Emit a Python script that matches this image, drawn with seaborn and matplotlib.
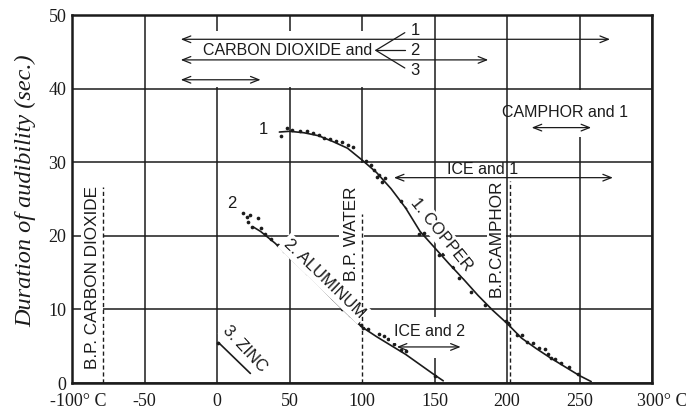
import matplotlib
matplotlib.use("Agg")
import matplotlib.pyplot as plt
import seaborn as sns
import pandas as pd
from matplotlib.patches import Rectangle
from matplotlib.transforms import ScaledTranslation

# ---------------- data (temperature °C, duration of audibility in sec.) -------------
copper_curve_t = [43, 50, 60, 70, 80, 90, 100, 110, 120, 130, 140, 150, 160, 170, 180,
                  190, 200, 210, 220, 230, 240, 250, 258]
copper_curve_s = [34.1, 34.2, 34.0, 33.6, 32.8, 31.9, 30.3, 28.6, 26.4, 23.8, 20.6, 18.4,
                  16.2, 14.1, 11.9, 9.9, 8.1, 6.1, 4.7, 3.4, 2.2, 1.0, 0.2]
copper_obs_t = [44, 48, 52, 57, 62, 66, 70, 74, 78, 82, 86, 90, 94, 103, 106, 108, 110,
                112, 114, 116, 127, 130, 132, 139, 143, 153, 156, 163, 167, 175, 185, 199,
                201, 207, 210, 214, 218, 222, 226, 228, 230, 233, 237, 243, 249]
copper_obs_s = [33.5, 34.6, 34.4, 34.3, 34.2, 34.0, 33.7, 33.3, 33.1, 32.9, 32.7, 32.4,
                32.1, 30.2, 29.6, 29.0, 28.0, 28.3, 27.3, 27.8, 24.7, 23.9, 24.3, 20.3,
                20.4, 17.4, 17.5, 15.7, 14.3, 12.4, 10.6, 8.4, 8.1, 6.5, 6.5, 5.6, 5.4,
                4.8, 4.6, 4.0, 3.4, 3.3, 2.7, 2.2, 1.2]

aluminum_curve_t = [25, 30, 40, 50, 60, 70, 80, 90, 100, 110, 120, 130, 140, 150, 156]
aluminum_curve_s = [21.2, 20.6, 19.0, 17.1, 15.2, 13.3, 11.3, 9.4, 7.6, 6.3, 5.1, 3.9,
                    2.5, 1.1, 0.3]
aluminum_obs_t = [18, 20.5, 23, 28.5, 21.6, 24, 30, 33, 37, 42, 46, 50, 54, 58, 62, 66,
                  70, 75, 80, 83, 86, 88, 90, 92, 95, 97, 99, 101, 104, 112, 115, 118,
                  122, 127, 130, 150]
aluminum_obs_s = [23.1, 22.6, 22.8, 22.4, 21.9, 21.2, 21.0, 20.3, 19.6, 18.8, 18.0, 17.3,
                  16.6, 15.9, 15.0, 14.4, 13.6, 12.7, 11.6, 11.3, 10.0, 10.4, 9.6, 9.3,
                  8.8, 8.3, 7.9, 7.5, 7.3, 6.6, 6.4, 6.0, 5.3, 4.5, 4.3, 1.0]

zinc_curve_t = [1, 12, 23]
zinc_curve_s = [5.5, 3.4, 1.3]
zinc_obs_t = [1]
zinc_obs_s = [5.5]

boiling_names = ["B.P. CARBON DIOXIDE", "B.P. WATER", "B.P.CAMPHOR"]
boiling_points = [-78.5, 100, 202]

x_ticks = [-100, -50, 0, 50, 100, 150, 200, 250, 300]
x_tick_labels = ["-100° C", "-50", "0", "50", "100", "150", "200", "250", "300° C"]
y_ticks = [0, 10, 20, 30, 40, 50]
y_tick_labels = ["0", "10", "20", "30", "40", "50"]

# temperature ranges of the mixtures (start, end)
co2_ranges = [(-25, 271), (-25, 187), (-25, 30)]
ice1_range = (122, 273)
ice2_range = (124, 168)
camphor1_range = (217, 258)

# ---------------- figure ----------------
sns.set_theme(style="white")
SERIF = ["Liberation Serif", "DejaVu Serif"]
SANS = ["Liberation Sans Narrow", "Liberation Sans", "DejaVu Sans"]
plt.rcParams["font.family"] = SERIF
INK = "#1b1b1b"

fig = plt.figure(figsize=(6.86, 4.11), dpi=100)
ax = fig.add_axes([0.105, 0.0681, 0.8455, 0.8954])
ax.set_facecolor("white")
ax.set_axisbelow(True)

ax.set_xlim(-100, 300)
ax.set_ylim(0, 50)
ax.set_xticks(x_ticks)
ax.set_xticklabels(x_tick_labels, fontsize=13, color=INK)
ax.set_yticks(y_ticks)
ax.set_yticklabels(y_tick_labels, fontsize=13, color=INK)
ax.tick_params(axis="x", length=0, pad=7)
ax.tick_params(axis="y", length=0, pad=4)
for i, lab in enumerate(ax.get_xticklabels()):
    if i == 0:
        lab.set_transform(lab.get_transform() + ScaledTranslation(6 / 100, 0, fig.dpi_scale_trans))
    if i == len(x_ticks) - 1:
        lab.set_transform(lab.get_transform() + ScaledTranslation(10 / 100, 0, fig.dpi_scale_trans))
ax.grid(True, color=INK, lw=1.1)
for sp in ax.spines.values():
    sp.set_visible(True)
    sp.set_color(INK)
    sp.set_linewidth(1.8)

ax.set_ylabel("Duration of audibility (sec.)", fontsize=17.5, fontstyle="italic", color=INK)
ax.yaxis.set_label_coords(-0.062, 0.522)

# white areas where the printed grid is interrupted
for (x0, y0, w, h) in [(-25, 40.25, 157, 7.6), (203, 33.4, 85, 6.35),
                       (98.7, 0.15, 2.6, 29.7), (148.6, 3.4, 2.8, 5.6)]:
    ax.add_patch(Rectangle((x0, y0), w, h, facecolor="white", edgecolor="none", zorder=1))

# curves
curves = [
    (copper_curve_t, copper_curve_s, copper_obs_t, copper_obs_s),
    (aluminum_curve_t, aluminum_curve_s, aluminum_obs_t, aluminum_obs_s),
    (zinc_curve_t, zinc_curve_s, zinc_obs_t, zinc_obs_s),
]
for ct, cs, ot, os_ in curves:
    sns.lineplot(x=ct, y=cs, ax=ax, color=INK, lw=1.2, sort=False, estimator=None, zorder=3)
    sns.scatterplot(x=ot, y=os_, ax=ax, color=INK, s=7, linewidth=0, zorder=4)

# boiling point dashed lines (drawn above the white label boxes)
bp_tops = [26.6, 23.0, 27.5]
for bp, top in zip(boiling_points, bp_tops):
    ax.plot([bp, bp], [0, top], color=INK, lw=1.0, ls=(0, (3, 2)), zorder=6)

def label(x, y, s, rot=0, size=11.5, pad=0.2, box=True, **kw):
    bbox = dict(boxstyle=f"square,pad={pad}", fc="white", ec="none") if box else None
    ax.text(x, y, s, rotation=rot, rotation_mode="anchor", ha="center", va="center",
            fontsize=size, family=SANS, color=INK, bbox=bbox, zorder=5, **kw)

label(-86, 14.3, boiling_names[0], rot=90, size=12.3, pad=0.2)
label(92.9, 20.3, boiling_names[1], rot=90, size=12.3, pad=0.3)
label(192.6, 19.7, boiling_names[2], rot=90, size=12.3, pad=0.1)

label(155, 20.1, "1. COPPER", rot=-51, size=12, pad=0.15)
label(74, 14.2, "2. ALUMINUM", rot=-44, size=12, pad=0.15)
label(19.3, 4.6, "3. ZINC", rot=-47, size=12, pad=0.1)
label(32, 34.5, "1", size=12, box=False)
label(10, 24.4, "2", size=12, box=False)

def range_arrow(rng, y):
    ax.annotate("", xy=(rng[0], y), xytext=(rng[1], y),
                arrowprops=dict(arrowstyle="<->,head_length=0.5,head_width=0.2",
                                color=INK, lw=0.9, shrinkA=0, shrinkB=0), zorder=5)

co2_y = [46.7, 43.9, 41.2]
for rng, y in zip(co2_ranges, co2_y):
    range_arrow(rng, y)
label(49, 45.2, "CARBON DIOXIDE and", size=11.5, pad=0.1)
branch_ys = [47.6, 45.2, 42.8]
for y, n in zip(branch_ys, ["1", "2", "3"]):
    ax.plot([109.5, 129.5], [45.2, y], color=INK, lw=0.9, zorder=5)
    label(136.5, y + (0.3 if n == "1" else (-0.3 if n == "3" else 0)), n, size=12, box=False)

range_arrow(ice1_range, 27.9)
label(183.4, 29.0, "ICE and 1", box=False)
range_arrow(ice2_range, 4.9)
label(146.5, 7.0, "ICE and 2", pad=0.25)
range_arrow(camphor1_range, 34.7)
label(240, 36.8, "CAMPHOR and 1", box=False)

fig.savefig("out.png", dpi=100, facecolor="white")
